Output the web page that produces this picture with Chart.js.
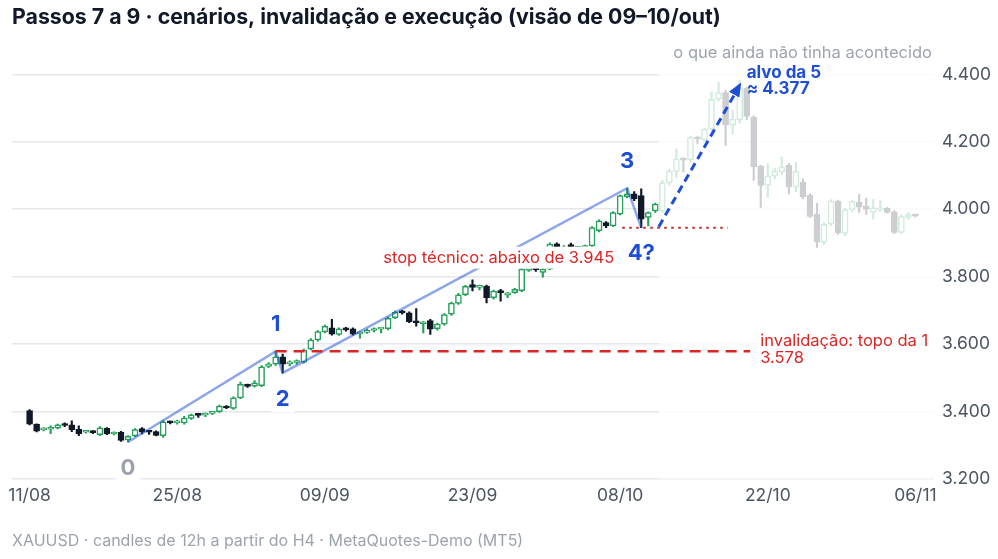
<!DOCTYPE html>
<html lang="pt-BR">
<head>
<meta charset="utf-8">
<title>XAUUSD 12h - passos 7 a 9</title>
<script src="https://cdn.jsdelivr.net/npm/chart.js@4.4.1/dist/chart.umd.min.js"></script>
<style>
  html, body { margin: 0; padding: 0; background: #fff; }
  #wrap { width: 998px; height: 559px; position: relative; }
</style>
</head>
<body>
<div id="wrap"><canvas id="chartXau"></canvas></div>
<script>
// trading days (two 12h candles per day)
const days = [
  '11/08','12/08','13/08','14/08','15/08','18/08','19/08','20/08','21/08','22/08',
  '25/08','26/08','27/08','28/08','29/08','01/09','02/09','03/09','04/09','05/09',
  '08/09','09/09','10/09','11/09','12/09','15/09','16/09','17/09','18/09','19/09',
  '22/09','23/09','24/09','25/09','26/09','29/09','30/09','01/10','02/10','03/10',
  '06/10','07/10','08/10','09/10','10/10','13/10','14/10','15/10','16/10','17/10',
  '20/10','21/10','22/10','23/10','24/10','27/10','28/10','29/10','30/10','31/10',
  '03/11','04/11','05/11','06/11'
];

// OHLC
const open = [
  3402,3362,3345,3347,3350,3362,3360,3347,3338,3341, 3331,3350,3333,3338,3315,3327,3349,3341,3340,3328,
  3369,3366,3366,3379,3391,3389,3394,3399,3415,3409, 3440,3479,3475,3476,3533,3540,3562,3541,3545,3546,
  3585,3612,3636,3648,3628,3646,3645,3630,3634,3640, 3644,3645,3678,3697,3692,3667,3660,3669,3645,3659,
  3688,3720,3746,3776,3768,3772,3737,3758,3745,3752, 3758,3818,3829,3812,3822,3897,3870,3895,3884,3886,
  3891,3936,3960,3950,3985,4037,4045,4040,3975,3995, 3995,4078,4112,4150,4146,4213,4206,4238,4327,4346,
  4250,4265,4358,4273,4127,4070,4098,4110,4130,4066, 4080,4042,3985,3902,3955,4024,3928,3998,4021,4008,
  3991,3998,4002,3992,3931,3975,3983
];
const high = [
  3405,3363,3352,3357,3362,3366,3372,3357,3344,3343, 3355,3352,3339,3341,3328,3349,3352,3344,3342,3373,
  3371,3374,3385,3392,3393,3396,3399,3419,3417,3443, 3487,3481,3491,3536,3545,3578,3570,3550,3553,3585,
  3616,3640,3656,3673,3648,3649,3648,3637,3644,3648, 3648,3680,3698,3700,3695,3705,3667,3673,3662,3690,
  3724,3750,3774,3790,3775,3775,3760,3762,3753,3765, 3825,3832,3833,3824,3900,3900,3892,3899,3889,3893,
  3948,3968,3963,3993,4042,4062,4052,4060,3992,4018, 4085,4118,4179,4153,4216,4215,4240,4347,4376,4352,
  4293,4381,4362,4277,4130,4134,4120,4154,4136,4139, 4090,4046,4017,3960,4028,4027,4002,4027,4043,4033,
  4028,4025,4005,3996,3983,3990,3985
];
const low = [
  3360,3339,3342,3334,3348,3355,3340,3328,3335,3334, 3328,3331,3330,3311,3309,3325,3333,3332,3327,3323,
  3363,3362,3362,3376,3382,3384,3390,3397,3408,3406, 3438,3471,3472,3473,3530,3536,3514,3535,3540,3543,
  3582,3608,3633,3626,3625,3638,3626,3617,3631,3636, 3633,3642,3675,3688,3663,3653,3633,3628,3641,3656,
  3685,3717,3743,3757,3760,3722,3733,3727,3737,3750, 3755,3815,3815,3798,3820,3865,3866,3880,3870,3880,
  3888,3932,3945,3948,3983,4033,4025,3945,3950,3990, 3990,4070,4095,4110,4140,4195,4200,4233,4320,4189,
  4223,4255,4265,4085,4005,4035,4090,4103,4045,4052, 4030,3975,3886,3895,3950,3925,3922,3992,3990,3984,
  3970,3993,3988,3928,3928,3970,3977
];
const close = [
  3362,3341,3348,3350,3360,3358,3346,3334,3341,3337, 3351,3333,3336,3314,3326,3346,3338,3338,3329,3369,
  3366,3369,3380,3390,3388,3394,3397,3416,3410,3440, 3480,3474,3485,3532,3541,3562,3540,3546,3549,3582,
  3612,3637,3652,3629,3645,3642,3629,3634,3641,3645, 3647,3676,3694,3692,3666,3663,3664,3644,3659,3687,
  3721,3746,3771,3768,3771,3737,3757,3752,3752,3762, 3822,3827,3820,3822,3896,3870,3888,3886,3887,3891,
  3945,3965,3950,3990,4040,4045,4030,3970,3990,4015, 4078,4113,4149,4145,4212,4208,4237,4326,4346,4250,
  4267,4360,4275,4125,4070,4099,4113,4125,4066,4111, 4037,3978,3902,3955,4024,3930,3998,4023,4006,4000,
  4004,4002,3990,3931,3978,3984,3979
];

const labels = close.map((c, i) => days[Math.floor(i / 2)]);
const xTicks = [0, 21, 42, 63, 84, 105, 126];
const yTicks = [3200, 3400, 3600, 3800, 4000, 4200, 4400];

// Elliott count drawn on top of the candles
const waveX = [14, 35, 36, 85, 87];
const waveY = [3309, 3578, 3514, 4062, 3945];
const waveNames = ['0', '1', '2', '3', '4?'];

const lastSeen = 89;          // last candle known on 09-10/out
const invalidLevel = 3578;    // top of wave 1
const stopLevel = 3945;
const targetLevel = 4377;

const upColor = '#26a05a';
const downColor = '#111827';
const blue = '#1d4ed8';
const red = '#dc2626';

const isUp = close.map((c, i) => c >= open[i]);

function fmt(v) {
  return String(v).replace(/\B(?=(\d{3})+(?!\d))/g, '.');
}

Chart.defaults.font.family = 'Inter, "Noto Sans", sans-serif';

// white veil over what had not happened yet
const futureVeil = {
  id: 'futureVeil',
  afterDatasetDraw(chart, args) {
    if (args.index !== 1) return;
    const { ctx, chartArea, scales } = chart;
    const x0 = scales.x.getPixelForValue(lastSeen + 0.5);
    ctx.save();
    ctx.fillStyle = 'rgba(255,255,255,0.79)';
    ctx.fillRect(x0, chartArea.top, chartArea.right - x0, chartArea.bottom - chartArea.top);
    ctx.restore();
  }
};

function tag(ctx, text, x, y, o) {
  ctx.font = o.font;
  ctx.textAlign = o.align || 'center';
  ctx.textBaseline = 'middle';
  if (o.box) {
    const w = ctx.measureText(text).width;
    let left = x - w / 2;
    if (o.align === 'right') left = x - w;
    if (o.align === 'left') left = x;
    ctx.fillStyle = '#ffffff';
    ctx.fillRect(left - o.box[0], y - o.box[1] / 2, w + o.box[0] * 2, o.box[1]);
  }
  ctx.fillStyle = o.color;
  ctx.fillText(text, x, y);
}

const notes = {
  id: 'notes',
  afterDraw(chart) {
    const { ctx, chartArea, scales } = chart;
    const sx = scales.x, sy = scales.y;
    ctx.save();

    // arrow head for the wave 5 target
    const ax0 = sx.getPixelForValue(89.5), ay0 = sy.getPixelForValue(3948);
    const ax1 = sx.getPixelForValue(101), ay1 = sy.getPixelForValue(4368);
    const ang = Math.atan2(ay1 - ay0, ax1 - ax0);
    ctx.fillStyle = blue;
    ctx.beginPath();
    ctx.moveTo(ax1 + 3 * Math.cos(ang), ay1 + 3 * Math.sin(ang));
    ctx.lineTo(ax1 - 11 * Math.cos(ang) + 6 * Math.sin(ang), ay1 - 11 * Math.sin(ang) - 6 * Math.cos(ang));
    ctx.lineTo(ax1 - 11 * Math.cos(ang) - 6 * Math.sin(ang), ay1 - 11 * Math.sin(ang) + 6 * Math.cos(ang));
    ctx.closePath();
    ctx.fill();

    // wave numbers
    waveNames.forEach((name, i) => {
      const px = sx.getPixelForValue(waveX[i]);
      const py = sy.getPixelForValue(waveY[i]);
      const above = i === 1 || i === 3;
      tag(ctx, name, px, py + (above ? -27 : 26), {
        font: 'bold 22px Inter', color: i === 0 ? '#9ca3af' : blue, box: [5, 26]
      });
    });

    // stop
    const stopY = sy.getPixelForValue(stopLevel);
    tag(ctx, 'stop técnico: abaixo de ' + fmt(stopLevel), sx.getPixelForValue(84.3) - 8, stopY + 30, {
      font: '16.5px Inter', color: red, align: 'right', box: [3, 22]
    });

    // invalidation
    const invY = sy.getPixelForValue(invalidLevel);
    const invX = sx.getPixelForValue(102.5) + 10;
    tag(ctx, 'invalidação: topo da 1', invX, invY - 10, { font: '16.5px Inter', color: red, align: 'left' });
    tag(ctx, fmt(invalidLevel), invX, invY + 7, { font: '16.5px Inter', color: red, align: 'left' });

    // target
    const tY = sy.getPixelForValue(targetLevel);
    tag(ctx, 'alvo da 5', ax1 + 7, tY - 9, { font: 'bold 17px Inter', color: blue, align: 'left' });
    tag(ctx, '≈ ' + fmt(targetLevel), ax1 + 7, tY + 7, { font: 'bold 17px Inter', color: blue, align: 'left' });

    tag(ctx, 'o que ainda não tinha acontecido', chartArea.right - 1, chartArea.top + 12, {
      font: '16.5px Inter', color: '#9ca3af', align: 'right'
    });
    ctx.restore();
  }
};

const ctx = document.getElementById('chartXau').getContext('2d');
new Chart(ctx, {
  type: 'bar',
  data: {
    datasets: [
      {
        // wicks
        data: close.map((c, i) => ({ x: i, y: [low[i], high[i]] })),
        backgroundColor: isUp.map(u => u ? upColor : downColor),
        barThickness: 1.5,
        grouped: false,
        order: 6
      },
      {
        // bodies
        data: close.map((c, i) => ({ x: i, y: [open[i], c] })),
        backgroundColor: isUp.map(u => u ? '#ffffff' : downColor),
        borderColor: isUp.map(u => u ? upColor : downColor),
        borderWidth: 1.5,
        borderSkipped: false,
        barThickness: 6,
        minBarLength: 2,
        grouped: false,
        order: 5
      },
      {
        type: 'line',
        data: waveX.map((x, i) => ({ x, y: waveY[i] })),
        borderColor: 'rgba(29,78,216,0.5)',
        borderWidth: 2.5,
        pointRadius: 0,
        order: 4
      },
      {
        type: 'line',
        data: [{ x: 35, y: invalidLevel }, { x: 102.5, y: invalidLevel }],
        borderColor: red,
        borderWidth: 2.5,
        borderDash: [11, 7],
        pointRadius: 0,
        order: 3
      },
      {
        type: 'line',
        data: [{ x: 84.3, y: stopLevel }, { x: 99.3, y: stopLevel }],
        borderColor: '#c62828',
        borderWidth: 2,
        borderDash: [2.5, 4.5],
        pointRadius: 0,
        order: 2
      },
      {
        type: 'line',
        data: [{ x: 89.5, y: 3948 }, { x: 100.6, y: 4352 }],
        borderColor: blue,
        borderWidth: 3,
        borderDash: [8, 5],
        pointRadius: 0,
        order: 1
      }
    ]
  },
  options: {
    responsive: true,
    maintainAspectRatio: false,
    animation: false,
    events: [],
    layout: { padding: { left: 12, right: 0, top: 0, bottom: 0 } },
    plugins: {
      legend: { display: false },
      tooltip: { enabled: false },
      title: {
        display: true,
        text: 'Passos 7 a 9 · cenários, invalidação e execução (visão de 09–10/out)',
        align: 'start',
        color: '#111827',
        font: { size: 21.3, weight: 'bold' },
        padding: { top: 5, bottom: 10 }
      },
      subtitle: {
        display: true,
        position: 'bottom',
        text: 'XAUUSD · candles de 12h a partir do H4 · MetaQuotes-Demo (MT5)',
        align: 'start',
        color: '#9ca3af',
        font: { size: 16 },
        padding: { top: 20, bottom: 8 }
      }
    },
    scales: {
      x: {
        type: 'linear',
        min: -2.5,
        max: 128.5,
        offset: false,
        grid: { display: false, drawTicks: false },
        border: { display: false },
        afterBuildTicks: axis => { axis.ticks = xTicks.map(v => ({ value: v })); },
        ticks: {
          autoSkip: false,
          maxRotation: 0,
          padding: 6,
          color: '#4b5563',
          font: { size: 17.5 },
          callback: v => labels[v]
        }
      },
      y: {
        position: 'right',
        min: 3200,
        max: 4500,
        grid: { color: '#e5e7eb', lineWidth: 1.5, drawTicks: false },
        border: { display: false },
        afterBuildTicks: axis => { axis.ticks = yTicks.map(v => ({ value: v })); },
        afterFit: axis => { axis.width = 65; },
        ticks: {
          padding: 9,
          color: '#4b5563',
          font: { size: 17.5 },
          callback: v => fmt(v)
        }
      }
    }
  },
  plugins: [futureVeil, notes]
});
</script>
</body>
</html>
